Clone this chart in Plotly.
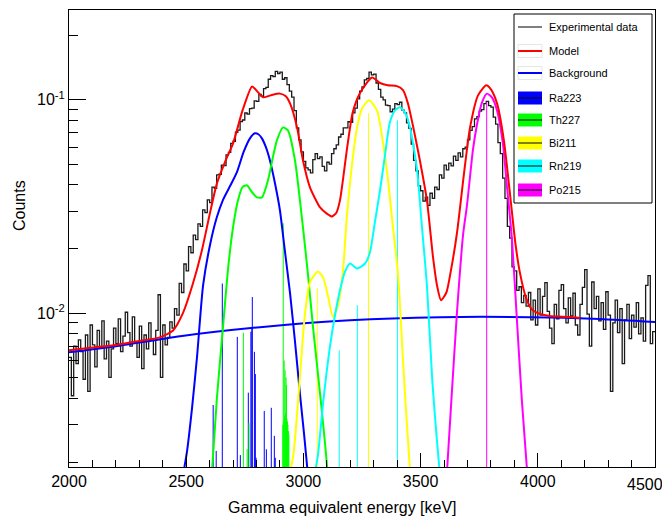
import plotly.graph_objects as go

# ---------------- data ----------------
bin_lo, bin_hi, bin_w = 2000, 4500, 10
counts = [
    0.0062, 0.0041, 0.0070, 0.0058, 0.0075, 0.0066, 0.0049, 0.0079, 0.0043, 0.0088,
    0.0071, 0.0056, 0.0083, 0.0069, 0.0092, 0.0061, 0.0074, 0.0050, 0.0068, 0.0085,
    0.0072, 0.0094, 0.0066, 0.0078, 0.0101, 0.0081, 0.0070, 0.0096, 0.0073, 0.0062,
    0.0087, 0.0055, 0.0079, 0.0068, 0.0090, 0.0075, 0.0064, 0.0083, 0.0122, 0.0050,
    0.0088, 0.0071, 0.0077, 0.0091, 0.0085, 0.0105, 0.0098, 0.0138, 0.0125, 0.0170,
    0.0158, 0.0205, 0.0192, 0.0232, 0.0221, 0.0262, 0.0255, 0.0305, 0.0296, 0.0340,
    0.0330, 0.0390, 0.0385, 0.0445, 0.0448, 0.0495, 0.0492, 0.0552, 0.0568, 0.0625,
    0.0640, 0.0705, 0.0722, 0.0792, 0.0805, 0.0868, 0.0858, 0.0910, 0.0915, 0.0990,
    0.0985, 0.1060, 0.1040, 0.1130, 0.1145, 0.1250, 0.1300, 0.1285, 0.1360, 0.1330,
    0.1350, 0.1250, 0.1270, 0.1180, 0.1100, 0.1030, 0.0890, 0.0740, 0.0650, 0.0570,
    0.0515, 0.0480, 0.0470, 0.0455, 0.0525, 0.0560, 0.0530, 0.0540, 0.0488, 0.0465,
    0.0510, 0.0500, 0.0560, 0.0590, 0.0615, 0.0670, 0.0690, 0.0740, 0.0740, 0.0790,
    0.0785, 0.0870, 0.0915, 0.1010, 0.1100, 0.1150, 0.1240, 0.1260, 0.1350, 0.1310,
    0.1320, 0.1200, 0.1120, 0.1030, 0.1000, 0.0945, 0.0940, 0.0880, 0.0905, 0.0960,
    0.0950, 0.0975, 0.0895, 0.0870, 0.0780, 0.0735, 0.0620, 0.0520, 0.0465, 0.0395,
    0.0375, 0.0335, 0.0350, 0.0320, 0.0365, 0.0345, 0.0390, 0.0380, 0.0445, 0.0430,
    0.0495, 0.0470, 0.0505, 0.0490, 0.0545, 0.0520, 0.0565, 0.0540, 0.0590, 0.0600,
    0.0650, 0.0720, 0.0750, 0.0815, 0.0835, 0.0885, 0.0900, 0.0960, 0.0985, 0.0940,
    0.0925, 0.0830, 0.0770, 0.0630, 0.0560, 0.0430, 0.0345, 0.0255, 0.0225, 0.0165,
    0.0158, 0.0128, 0.0133, 0.0112, 0.0121, 0.0108, 0.0125, 0.0093, 0.0115, 0.0088,
    0.0130, 0.0098, 0.0120, 0.0139, 0.0102, 0.0085, 0.0072, 0.0110, 0.0094, 0.0128,
    0.0136, 0.0105, 0.0090, 0.0118, 0.0097, 0.0124, 0.0088, 0.0079, 0.0110, 0.0132,
    0.0160, 0.0099, 0.0070, 0.0140, 0.0105, 0.0120, 0.0092, 0.0112, 0.0084, 0.0126,
    0.0098, 0.0043, 0.0090, 0.0115, 0.0081, 0.0105, 0.0058, 0.0093, 0.0110, 0.0076,
    0.0098, 0.0086, 0.0112, 0.0080, 0.0095, 0.0074, 0.0135, 0.0150, 0.0072, 0.0082,
]

model_curve = [
    (2000, 0.0067), (2100, 0.0069), (2200, 0.0071), (2300, 0.0074), (2388, 0.0077),
    (2444, 0.0083), (2486, 0.0100), (2529, 0.0138), (2567, 0.0197), (2600, 0.029),
    (2631, 0.0406), (2665, 0.051), (2700, 0.0625), (2740, 0.089), (2781, 0.1156),
    (2805, 0.109), (2828, 0.1028), (2860, 0.105), (2900, 0.107), (2925, 0.104),
    (2943, 0.0963), (2973, 0.0743), (2998, 0.0521), (3028, 0.0389), (3071, 0.0313),
    (3100, 0.0293), (3122, 0.0284), (3140, 0.0295), (3156, 0.0338), (3186, 0.059),
    (3210, 0.087), (3241, 0.1075), (3293, 0.1274), (3327, 0.120), (3360, 0.117),
    (3399, 0.116), (3425, 0.111), (3446, 0.0962), (3467, 0.076), (3497, 0.052),
    (3527, 0.0338), (3553, 0.0183), (3570, 0.0135), (3587, 0.0115), (3610, 0.0125),
    (3630, 0.016), (3655, 0.0237), (3685, 0.045), (3711, 0.0743), (3745, 0.105),
    (3780, 0.117), (3800, 0.112), (3826, 0.0963), (3855, 0.065), (3881, 0.0365),
    (3905, 0.021), (3924, 0.0154), (3950, 0.0118), (3975, 0.0104), (4000, 0.0100),
    (4050, 0.0097), (4137, 0.0096), (4180, 0.0095),
]
background_curve = [
    (2000, 0.00656), (2200, 0.0070), (2474, 0.0078), (2815, 0.0086), (3199, 0.00927),
    (3583, 0.00958), (3967, 0.00958), (4265, 0.0094), (4500, 0.0091),
]
ra223_curve = [
    (2460, 0.0012), (2503, 0.00223), (2525, 0.0036), (2546, 0.0062), (2572, 0.0135),
    (2602, 0.021), (2630, 0.028), (2657, 0.034), (2690, 0.040), (2717, 0.046),
    (2745, 0.057), (2772, 0.066), (2793, 0.0697), (2808, 0.069), (2823, 0.066),
    (2840, 0.060), (2857, 0.0521), (2880, 0.040), (2900, 0.0303), (2920, 0.020),
    (2943, 0.0124), (2965, 0.0072), (2985, 0.00422), (3003, 0.0027), (3025, 0.0015),
]
th227_curve = [
    (2605, 0.0015), (2631, 0.0040), (2657, 0.0086), (2678, 0.0159), (2700, 0.0253),
    (2721, 0.0338), (2740, 0.039), (2759, 0.0398), (2780, 0.037), (2802, 0.0349),
    (2823, 0.0349), (2849, 0.042), (2870, 0.054), (2887, 0.0646), (2913, 0.0743),
    (2934, 0.0719), (2964, 0.0521), (2998, 0.0253), (3020, 0.0150), (3041, 0.0086),
    (3071, 0.0042), (3090, 0.0026), (3110, 0.0015),
]
bi211_curve = [
    (2925, 0.0015), (2956, 0.00212), (2985, 0.0050), (3005, 0.0095), (3028, 0.014),
    (3062, 0.0157), (3084, 0.0147), (3105, 0.0120), (3126, 0.0096), (3148, 0.0109),
    (3169, 0.0159), (3186, 0.0288), (3207, 0.0493), (3229, 0.0743), (3250, 0.0912),
    (3280, 0.0996), (3314, 0.0893), (3340, 0.0625), (3361, 0.042), (3382, 0.0253),
    (3404, 0.0151), (3425, 0.0060), (3440, 0.0032), (3460, 0.0015),
]
rn219_curve = [
    (3036, 0.0015), (3062, 0.00216), (3084, 0.00379), (3113, 0.00693), (3135, 0.0098),
    (3156, 0.0128), (3177, 0.0156), (3199, 0.0171), (3229, 0.0162), (3263, 0.0171),
    (3284, 0.0193), (3305, 0.0267), (3327, 0.0377), (3348, 0.055), (3369, 0.0785),
    (3391, 0.0893), (3412, 0.0923), (3433, 0.0874), (3455, 0.0743), (3485, 0.0468),
    (3505, 0.026), (3527, 0.0135), (3550, 0.0048), (3570, 0.0025), (3588, 0.0015),
]
po215_curve = [
    (3608, 0.0015), (3634, 0.00436), (3655, 0.0100), (3681, 0.0232), (3698, 0.0321),
    (3723, 0.058), (3740, 0.076), (3762, 0.0973), (3783, 0.107), (3804, 0.1028),
    (3826, 0.0893), (3851, 0.0625), (3868, 0.0398), (3890, 0.022), (3911, 0.00927),
    (3932, 0.0039), (3960, 0.0015),
]

# line intensities (energy keV, height)
ra223_lines = [
    (2615, 0.00371), (2628, 0.00226), (2654, 0.01377), (2718, 0.00774), (2731, 0.00216),
    (2765, 0.00424), (2776, 0.00818), (2780, 0.0085), (2782, 0.0119), (2791, 0.00659),
    (2795, 0.00518), (2798, 0.0021), (2833, 0.00348), (2842, 0.0023), (2863, 0.0036),
    (2876, 0.00266), (2880, 0.0021),
]
th227_lines = [
    (2744, 0.00809), (2760, 0.0023), (2768, 0.00305), (2912, 0.0030), (2914, 0.0264),
    (2916, 0.0031), (2918, 0.0060), (2920, 0.0033), (2922, 0.0054), (2924, 0.0034),
    (2926, 0.0050), (2928, 0.0046), (2930, 0.0032), (2932, 0.0031), (2934, 0.0030),
    (2936, 0.0028), (2938, 0.0027),
]
bi211_lines = [(3059, 0.0131), (3278, 0.0865)]
rn219_lines = [(3153, 0.0067), (3230, 0.0109), (3401, 0.0802)]
po215_lines = [(3782, 0.098)]

legend_labels = ["Experimental data", "Model", "Background",
                 "Ra223", "Th227", "Bi211", "Rn219", "Po215"]

x_ticks = [2000, 2500, 3000, 3500, 4000, 4500]
x_ticktext = ["2000", "2500", "3000", "3500", "4000", ""]
last_x_label = "4500"
y_ticks = [0.01, 0.1]
y_ticktext = ["10<sup>-2</sup>", "10<sup>-1</sup>"]
y_minor = [0.002, 0.003, 0.004, 0.005, 0.006, 0.007, 0.008, 0.009,
           0.02, 0.03, 0.04, 0.05, 0.06, 0.07, 0.08, 0.09, 0.2]

# ---------------- figure ----------------
FONT = "Liberation Sans, Arial, sans-serif"
# page body has an 8px default margin: size the figure so the plot frame
# lands at page x 69..655, y 10..467
OFF = 8
W, H = 670 - OFF, 519 - OFF
L, R, T, B = 69 - OFF, 15, 10 - OFF, 52
PX0, PX1, PY0, PY1 = 69, 655, 10, 467   # plot frame in page pixels

def px2x(px):
    return (px - PX0) / (PX1 - PX0)

def py2y(py):
    return (PY1 - py) / (PY1 - PY0)

fig = go.Figure()

# experimental histogram (step)
edges = [bin_lo + i * bin_w for i in range(len(counts) + 1)]
fig.add_trace(go.Scatter(x=edges, y=counts + [counts[-1]], mode="lines",
                         line=dict(color="#1a1a1a", width=1.3, shape="hv"),
                         hoverinfo="skip"))

def stick_trace(lines, color):
    xs, ys = [], []
    for e, h in lines:
        xs += [e, e, None]
        ys += [1e-4, h, None]
    return go.Scatter(x=xs, y=ys, mode="lines", line=dict(color=color, width=1),
                      hoverinfo="skip")

fig.add_trace(stick_trace(ra223_lines, "#0000ff"))
fig.add_trace(stick_trace(th227_lines, "#00ff00"))
fig.add_trace(stick_trace(bi211_lines, "#ffff00"))
fig.add_trace(stick_trace(rn219_lines, "#00ffff"))
fig.add_trace(stick_trace(po215_lines, "#ff00ff"))

def curve_trace(pts, color, shape="linear"):
    return go.Scatter(x=[p[0] for p in pts], y=[p[1] for p in pts], mode="lines",
                      line=dict(color=color, width=2, shape=shape, smoothing=0.6),
                      hoverinfo="skip")

fig.add_trace(curve_trace(background_curve, "#0000ff", "spline"))
fig.add_trace(curve_trace(ra223_curve, "#0000ff", "spline"))
fig.add_trace(curve_trace(th227_curve, "#00ff00", "spline"))
fig.add_trace(curve_trace(bi211_curve, "#ffff00", "spline"))
fig.add_trace(curve_trace(rn219_curve, "#00ffff", "spline"))
fig.add_trace(curve_trace(po215_curve, "#ff00ff", "spline"))
fig.add_trace(curve_trace(model_curve, "#ff0000", "spline"))

# ---------------- legend (drawn manually) ----------------
shapes = []
annotations = []
lx0, lx1, ly0, ly1 = 514, 652, 14, 203
shapes.append(dict(type="rect", xref="paper", yref="paper",
                   x0=px2x(lx0), x1=px2x(lx1), y0=py2y(ly1), y1=py2y(ly0),
                   line=dict(color="black", width=1), fillcolor="white", layer="above"))
row_y = [27, 51, 73, 98, 120, 143, 166, 190]
sym_x0, sym_x1 = 518, 542
kinds = [("line", "#000000", 1), ("line", "#ff0000", 2), ("line", "#0000ff", 2),
         ("box", "#0000ff", 0), ("box", "#00ff00", 0), ("box", "#ffff00", 0),
         ("box", "#00ffff", 0), ("box", "#ff00ff", 0)]
for lab, yc, (kind, col, lw) in zip(legend_labels, row_y, kinds):
    if kind == "box":
        shapes.append(dict(type="rect", xref="paper", yref="paper",
                           x0=px2x(sym_x0), x1=px2x(sym_x1),
                           y0=py2y(yc + 6.5), y1=py2y(yc - 6.5),
                           line=dict(width=0), fillcolor=col, layer="above"))
        shapes.append(dict(type="line", xref="paper", yref="paper",
                           x0=px2x(sym_x0), x1=px2x(sym_x1), y0=py2y(yc), y1=py2y(yc),
                           line=dict(color="black", width=1), layer="above"))
    else:
        if lw == 2:
            shapes.append(dict(type="rect", xref="paper", yref="paper",
                               x0=px2x(sym_x0), x1=px2x(sym_x1),
                               y0=py2y(yc + 6.5), y1=py2y(yc - 6.5),
                               line=dict(color="#e6e6e6", width=1), fillcolor="white",
                               layer="above"))
        shapes.append(dict(type="line", xref="paper", yref="paper",
                           x0=px2x(sym_x0), x1=px2x(sym_x1), y0=py2y(yc), y1=py2y(yc),
                           line=dict(color=col, width=lw), layer="above"))
    annotations.append(dict(text=lab, xref="paper", yref="paper",
                            x=px2x(547), y=py2y(yc), xanchor="left", yanchor="middle",
                            showarrow=False, font=dict(family=FONT, size=11, color="black")))

# last x tick label kept inside the canvas (as in the reference)
annotations.append(dict(text=last_x_label, xref="paper", yref="paper",
                        x=px2x(664), y=py2y(484), xanchor="right", yanchor="middle",
                        showarrow=False, borderpad=0,
                        font=dict(family=FONT, size=16, color="black")))

# axis titles
annotations.append(dict(text="Gamma equivalent energy [keV]", xref="paper", yref="paper",
                        x=px2x(342), y=py2y(507), xanchor="center", yanchor="middle",
                        showarrow=False, font=dict(family=FONT, size=16, color="black")))
annotations.append(dict(text="Counts", xref="paper", yref="paper",
                        x=px2x(20), y=py2y(206), xanchor="center", yanchor="middle",
                        textangle=-90, showarrow=False,
                        font=dict(family=FONT, size=16, color="black")))

fig.update_layout(
    width=W, height=H, autosize=False, margin=dict(l=L, r=R, t=T, b=B),
    paper_bgcolor="white", plot_bgcolor="white", showlegend=False,
    shapes=shapes, annotations=annotations,
    xaxis=dict(range=[bin_lo, bin_hi], showline=True, linecolor="black", linewidth=1,
               mirror=True, ticks="inside", ticklen=14, tickcolor="black", tickwidth=1,
               tickmode="array", tickvals=x_ticks, ticktext=x_ticktext,
               ticklabeloverflow="allow",
               tickfont=dict(family=FONT, size=16, color="black"),
               minor=dict(ticks="inside", ticklen=7, tickcolor="black", tickwidth=1,
                          tick0=2000, dtick=100, showgrid=False),
               showgrid=False, zeroline=False),
    yaxis=dict(type="log", range=[-2.7213, -0.5785], showline=True, linecolor="black",
               linewidth=1, mirror=True, ticks="inside", ticklen=17, tickcolor="black",
               tickwidth=1, tickmode="array", tickvals=y_ticks, ticktext=y_ticktext,
               tickfont=dict(family=FONT, size=16, color="black"),
               minor=dict(ticks="inside", ticklen=9, tickcolor="black", tickwidth=1,
                          tickmode="array", tickvals=y_minor, showgrid=False),
               showgrid=False, zeroline=False),
)

fig.write_html("out.html", config={"displayModeBar": False})
